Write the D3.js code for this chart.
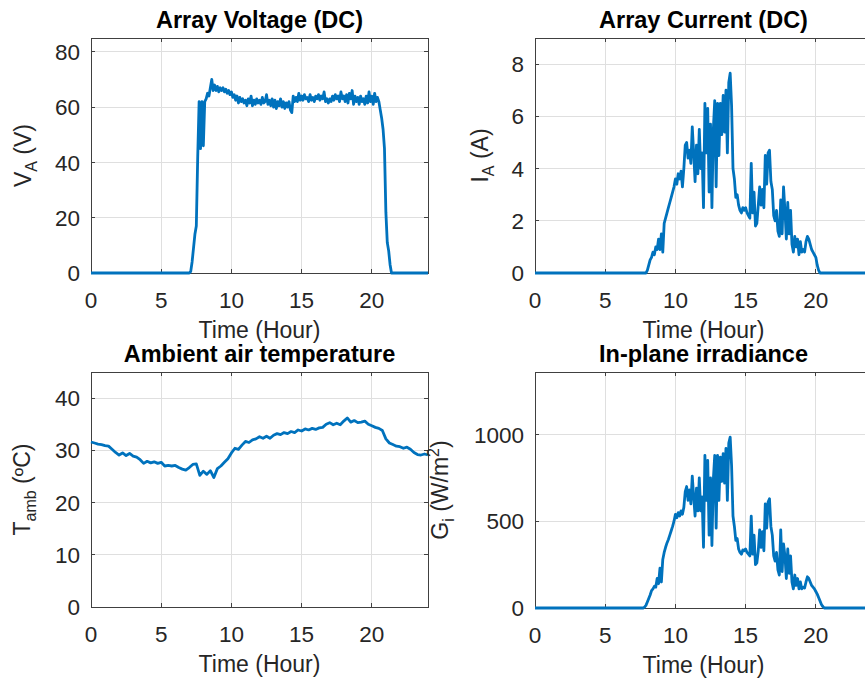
<!DOCTYPE html>
<html>
<head>
<meta charset="utf-8">
<title>PV array measurements</title>
<script src="https://cdn.jsdelivr.net/npm/d3@7"></script>
<style>
  body { margin: 0; background: #fff; }
  svg text { font-family: "Liberation Sans", Arial, Helvetica, sans-serif; fill: #262626; }
  .title { font-weight: bold; font-size: 23.5px; fill: #000; }
  .tick-label { font-size: 22.5px; }
  .axis-label { font-size: 23px; }
  .grid line { stroke: #dfdfdf; stroke-width: 1; shape-rendering: crispEdges; }
  .box { fill: none; stroke: #404040; stroke-width: 1; shape-rendering: crispEdges; }
  .tick { stroke: #404040; stroke-width: 1; shape-rendering: crispEdges; }
  .series { fill: none; stroke: #0072BD; stroke-width: 2.8; stroke-linejoin: round; }
</style>
</head>
<body>
<svg id="chart" width="865" height="684"></svg>
<script>
// ---- data ----
const hourTicks = [0, 5, 10, 15, 20];
const voltageTicks = [0, 20, 40, 60, 80];
const currentTicks = [0, 2, 4, 6, 8];
const tempTicks = [0, 10, 20, 30, 40];
const irradianceTicks = [0, 500, 1000];

const sampleStep = 0.1;   // hours between samples in the daytime arrays

// array voltage, V, from 7.0 h
const voltageStart = 7.0;
const voltageValues = [
  0, 0.5, 4, 9, 14, 17, 42, 62, 45, 62,
  46, 62, 63, 65, 64, 67, 70, 66, 68, 66,
  67.5, 65.5, 67, 66, 67, 65.5, 66.5, 65, 66, 64.5,
  65.5, 63.5, 64.5, 62.5, 64, 61.5, 63.5, 62, 63, 61.5,
  62.5, 60.5, 63, 61.5, 64, 60.5, 62.5, 61, 63, 61.5,
  62.5, 61, 63.5, 61.5, 62, 64.5, 61, 62.5, 60.5, 63,
  60, 62.5, 59.5, 62, 60.5, 63, 60, 62, 59.5, 61.5,
  60, 62, 59, 58, 64, 62, 63.5, 62, 65, 62.5,
  64, 62.5, 64.5, 63, 63.5, 62, 64.5, 62.5, 63.5, 62,
  64, 63, 64.5, 62.5, 64, 63, 65.5, 62, 63, 61.5,
  63, 62, 64, 62.5, 64.5, 63, 64, 62, 65.5, 63,
  64, 62, 64.5, 61.5, 65, 63, 66, 61, 64, 62,
  63.5, 61, 64, 62, 63, 61, 64, 61.5, 65.5, 62,
  64, 61, 65, 62, 63.5, 62, 59, 56, 52, 45,
  22, 11, 8, 3, 0
];

// array current, A, from 7.9 h
const currentStart = 7.9;
const currentValues = [
  0, 0.1, 0.3, 0.5, 0.6, 0.8, 0.7, 1.0, 0.9, 1.3,
  0.9, 1.5, 0.8, 1.9, 2.1, 2.3, 2.5, 2.7, 2.9, 3.1,
  3.3, 3.6, 3.4, 3.8, 3.6, 3.9, 3.3, 4.0, 4.9, 5.0,
  4.4, 4.7, 4.2, 5.6, 4.6, 3.5, 4.9, 3.8, 5.5, 4.0,
  4.6, 2.5, 6.5, 4.6, 6.3, 3.1, 5.7, 2.5, 5.5, 6.6,
  3.3, 6.5, 4.5, 6.5, 5.3, 6.8, 5.4, 7.0, 4.6, 7.3,
  7.65, 6.4, 4.0, 3.6, 2.9, 3.0, 2.6, 2.4, 2.3, 2.5,
  2.4, 2.5, 2.3, 2.2, 2.1, 4.2, 2.3, 3.1, 1.8, 1.9,
  2.6, 3.3, 2.6, 3.2, 2.5, 4.5, 3.4, 4.6, 4.7, 3.5,
  3.2, 2.2, 2.0, 2.4, 1.6, 1.4, 2.8, 1.5, 3.3, 2.4,
  1.3, 2.7, 1.5, 2.4, 1.1, 0.8, 1.4, 1.0, 1.3, 0.7,
  1.2, 0.8, 0.9, 0.8, 1.2, 1.4, 1.3, 1.1, 0.9, 0.8,
  0.7, 0.6, 0.3, 0.1, 0
];

// ambient temperature, degC, every 0.25 h from 0 h
const tempStep = 0.25;
const tempValues = [
  31.6, 31.4, 31.2, 31.1, 30.9, 30.8, 30.2, 29.6, 29.1, 29.5,
  29.0, 29.4, 28.9, 28.7, 28.2, 27.5, 27.9, 27.6, 27.8, 27.5,
  27.7, 27.0, 27.1, 27.0, 27.1, 26.7, 26.4, 26.2, 26.7, 27.3,
  27.4, 25.2, 26.0, 25.4, 26.1, 24.8, 26.5, 27.0, 27.7, 28.4,
  29.5, 30.4, 30.2, 31.0, 31.7, 31.5, 32.0, 32.2, 32.6, 32.3,
  32.7, 32.3, 32.9, 33.2, 33.0, 33.4, 33.2, 33.6, 33.4, 33.9,
  33.7, 34.1, 33.9, 34.2, 34.0, 34.3, 34.4, 35.0, 35.3, 34.9,
  35.2, 34.9, 35.6, 36.2, 35.4, 35.7, 35.3, 35.4, 35.6, 35.0,
  34.7, 34.4, 34.2, 33.8, 32.2, 31.4, 31.1, 30.8, 30.7, 30.4,
  30.6, 30.2, 29.6, 29.2, 29.1, 29.3, 29.1
];

// in-plane irradiance, W/m2, from 7.7 h
const irradianceStart = 7.7;
const irradianceValues = [
  0, 5, 15, 35, 55, 75, 100, 110, 125, 120,
  170, 140, 230, 150, 280, 320, 350, 375, 395, 420,
  445, 470, 500, 540, 520, 550, 530, 560, 540, 580,
  670, 700, 620, 680, 600, 760, 640, 530, 690, 560,
  750, 560, 640, 350, 880, 620, 850, 420, 750, 360,
  740, 880, 460, 880, 620, 870, 730, 890, 720, 920,
  620, 950, 985, 820, 530, 470, 390, 400, 340, 320,
  310, 335, 330, 340, 320, 310, 300, 530, 310, 420,
  250, 260, 330, 450, 350, 440, 330, 600, 460, 610,
  630, 470, 420, 300, 270, 320, 220, 190, 450, 210,
  370, 300, 170, 340, 200, 300, 150, 110, 190, 130,
  170, 110, 150, 110, 120, 115, 150, 180, 170, 150,
  130, 120, 110, 95, 80, 60, 40, 20, 8, 0
];

// ---- build series ----
function daySeries(start, step, values) {
  const pts = values.map((v, i) => [start + i * step, v]);
  return [[0, 0], ...pts, [24, 0]];
}
const voltageSeries = daySeries(voltageStart, sampleStep, voltageValues);
const currentSeries = daySeries(currentStart, sampleStep, currentValues);
const irradianceSeries = daySeries(irradianceStart, sampleStep, irradianceValues);
const tempSeries = tempValues.map((v, i) => [i * tempStep, v]);

const svg = d3.select("#chart");

const panels = [
  { left: 91, top: 38, w: 337, h: 235, yMax: 85, yTicks: voltageTicks,
    title: "Array Voltage (DC)", data: voltageSeries, labelX: 31,
    ylabel: [["V", "n"], ["A", "sub"], [" (V)", "n"]] },
  { left: 535, top: 38, w: 337, h: 235, yMax: 9, yTicks: currentTicks,
    title: "Array Current (DC)", data: currentSeries, labelX: 488,
    ylabel: [["I", "n"], ["A", "sub"], [" (A)", "n"]] },
  { left: 91, top: 372, w: 337, h: 235, yMax: 45, yTicks: tempTicks,
    title: "Ambient air temperature", data: tempSeries, labelX: 30,
    ylabel: [["T", "n"], ["amb", "sub"], [" (ºC)", "n"]] },
  { left: 535, top: 372, w: 337, h: 236, yMax: 1360, yTicks: irradianceTicks,
    title: "In-plane irradiance", data: irradianceSeries, labelX: 448,
    ylabel: [["G", "n"], ["i", "sub"], [" (W/m", "n"], ["2", "sup"], [")", "n"]] }
];

panels.forEach(p => {
  const x = d3.scaleLinear().domain([0, 24]).range([p.left, p.left + p.w]);
  const y = d3.scaleLinear().domain([0, p.yMax]).range([p.top + p.h, p.top]);
  const g = svg.append("g");
  const bottom = p.top + p.h, right = p.left + p.w;

  // grid
  const grid = g.append("g").attr("class", "grid");
  grid.selectAll("line.gx").data(hourTicks.filter(t => t > 0)).join("line")
    .attr("x1", d => x(d)).attr("x2", d => x(d))
    .attr("y1", p.top).attr("y2", bottom);
  grid.selectAll("line.gy").data(p.yTicks.filter(t => t > 0)).join("line")
    .attr("class", "gy")
    .attr("x1", p.left).attr("x2", right)
    .attr("y1", d => y(d)).attr("y2", d => y(d));

  // box and inward ticks
  g.append("rect").attr("class", "box")
    .attr("x", p.left).attr("y", p.top).attr("width", p.w).attr("height", p.h);
  const tl = 4;
  hourTicks.forEach(t => {
    g.append("line").attr("class", "tick").attr("x1", x(t)).attr("x2", x(t)).attr("y1", bottom).attr("y2", bottom - tl);
    g.append("line").attr("class", "tick").attr("x1", x(t)).attr("x2", x(t)).attr("y1", p.top).attr("y2", p.top + tl);
  });
  p.yTicks.forEach(t => {
    g.append("line").attr("class", "tick").attr("x1", p.left).attr("x2", p.left + tl).attr("y1", y(t)).attr("y2", y(t));
    g.append("line").attr("class", "tick").attr("x1", right).attr("x2", right - tl).attr("y1", y(t)).attr("y2", y(t));
  });

  // tick labels
  g.selectAll("text.xt").data(hourTicks).join("text")
    .attr("class", "tick-label").attr("text-anchor", "middle")
    .attr("x", d => x(d)).attr("y", bottom + 35).text(d => d);
  g.selectAll("text.yt").data(p.yTicks).join("text")
    .attr("class", "tick-label yt").attr("text-anchor", "end")
    .attr("x", p.left - 11).attr("y", d => y(d)).attr("dy", "0.36em").text(d => d);

  // series
  const line = d3.line().x(d => x(d[0])).y(d => y(d[1]));
  g.append("path").attr("class", "series").attr("d", line(p.data));

  // title and axis labels
  g.append("text").attr("class", "title").attr("text-anchor", "middle")
    .attr("x", p.left + p.w / 2).attr("y", p.top - 10).text(p.title);
  g.append("text").attr("class", "axis-label").attr("text-anchor", "middle")
    .attr("x", p.left + p.w / 2).attr("y", bottom + 65).text("Time (Hour)");

  const yl = g.append("text").attr("class", "axis-label").attr("text-anchor", "middle")
    .attr("transform", `translate(${p.labelX},${p.top + p.h / 2}) rotate(-90)`);
  let shift = 0;
  p.ylabel.forEach(([txt, kind]) => {
    const target = kind === "sub" ? 6 : kind === "sup" ? -9 : 0;
    yl.append("tspan").attr("dy", target - shift)
      .style("font-size", kind === "n" ? null : "16px").text(txt);
    shift = target;
  });
});
</script>
</body>
</html>
